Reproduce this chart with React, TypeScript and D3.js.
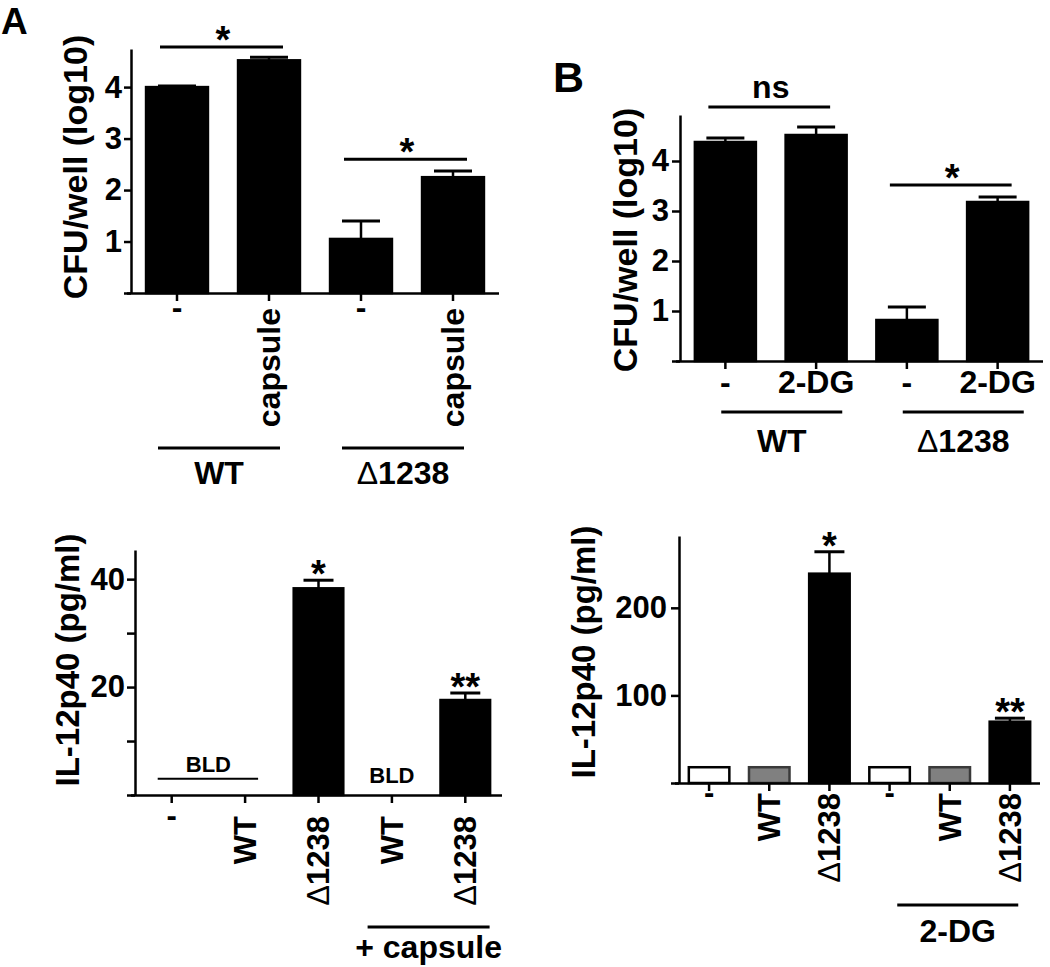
import React, { useEffect, useRef } from 'react';
import * as d3 from 'd3';

const FONT = '"Liberation Sans", Arial, Helvetica, sans-serif';

// A (top): CFU/well, with or without capsule
const capCats = ['-', 'capsule', '-', 'capsule'];
const capMeans = [4.0, 4.52, 1.05, 2.25];
const capErrs = [0.02, 0.06, 0.35, 0.12];
const capTicks = [0, 1, 2, 3, 4];
const capTickLabels = [1, 2, 3, 4];
const capGroups = [{ label: 'WT', from: 0, to: 1 }, { label: 'Δ1238', from: 2, to: 3 }];
const capSig = [{ from: 0, to: 1, y: 4.78, label: '*' }, { from: 2, to: 3, y: 2.6, label: '*' }];

// B (top): CFU/well, with or without 2-DG
const dgCats = ['-', '2-DG', '-', '2-DG'];
const dgMeans = [4.38, 4.52, 0.82, 3.18];
const dgErrs = [0.08, 0.16, 0.26, 0.1];
const dgTicks = [0, 1, 2, 3, 4];
const dgTickLabels = [1, 2, 3, 4];
const dgGroups = [{ label: 'WT', from: 0, to: 1 }, { label: 'Δ1238', from: 2, to: 3 }];
const dgSig = [{ from: 0, to: 1, y: 5.08, label: 'ns' }, { from: 2, to: 3, y: 3.52, label: '*' }];

// A (bottom): IL-12p40, capsule
const ilCapCats = ['-', 'WT', 'Δ1238', 'WT', 'Δ1238'];
const ilCapStrain = ['none', 'WT', 'Δ1238', 'WT', 'Δ1238'];
const ilCapMeans: (number | null)[] = [null, null, 38.3, null, 17.6];
const ilCapErrs: (number | null)[] = [null, null, 1.5, null, 1.3];
const ilCapStars = ['', '', '*', '', '**'];
const ilCapTicks = [0, 10, 20, 30, 40];
const ilCapTickLabels = [20, 40];
const ilCapBld = [{ from: 0, to: 1, textY: 4.3, lineY: 3 }, { from: 3, to: 3, textY: 2.2, lineY: null }];
const ilCapGroups = [{ label: '+ capsule', from: 3, to: 4 }];

// B (bottom): IL-12p40, 2-DG
const ilDgCats = ['-', 'WT', 'Δ1238', '-', 'WT', 'Δ1238'];
const ilDgStrain = ['none', 'WT', 'Δ1238', 'none', 'WT', 'Δ1238'];
const ilDgMeans: (number | null)[] = [18, 18, 239, 18, 18, 70];
const ilDgErrs: (number | null)[] = [0, 0, 25, 0, 0, 4];
const ilDgStars = ['', '', '*', '', '', '**'];
const ilDgTicks = [0, 100, 200];
const ilDgTickLabels = [100, 200];
const ilDgGroups = [{ label: '2-DG', from: 3, to: 5 }];

const strainFill = d3.scaleOrdinal<string, string>().domain(['none', 'WT', 'Δ1238']).range(['#ffffff', '#808080', '#000000']);
const strainStroke = d3.scaleOrdinal<string, string>().domain(['none', 'WT', 'Δ1238']).range(['#000000', '#3a3a3a', '#000000']);

type Sel = d3.Selection<any, any, any, any>;

// text with a thin (regular weight) delta, as in the original figure
const setLabel = (t: Sel, s: string) => {
  if (s.startsWith('Δ')) {
    t.append('tspan').attr('font-weight', 'normal').text('Δ');
    t.append('tspan').text(s.slice(1));
  } else t.text(s);
};

interface Panel {
  cats: string[];
  strain?: string[];
  means: (number | null)[];
  errs: (number | null)[];
  ticks: number[];
  tickLabels: number[];
  yTitle: string;
  groups: { label: string; from: number; to: number }[];
  sig?: { from: number; to: number; y: number; label: string }[];
  stars?: string[];
  bld?: { from: number; to: number; textY: number; lineY: number | null }[];
  L: {
    x0: number; x1: number; y0: number; yTop: number; yMax: number; pad: number;
    tickSize: number; tickPad: number; capW: number;
    titleX: number; titleY: number; titleSize: number;
    rotated: boolean; labY: number; labSize: number;
    grpLineY: number; grpTextY: number; grpOff: number; grpHalf: number;
  };
}

const drawPanel = (root: Sel, p: Panel) => {
  const L = p.L;
  const g = root.append('g');
  const n = p.cats.length;
  const x = d3.scaleBand<number>().domain(d3.range(n)).range([L.x0, L.x1]).paddingInner(L.pad).paddingOuter(L.pad / 2);
  const y = d3.scaleLinear().domain([0, L.yMax]).range([L.y0, L.yTop]);
  const cx = (i: number) => (x(i) as number) + x.bandwidth() / 2;

  const bars = p.means.map((m, i) => ({ i, m, e: p.errs[i] })).filter(d => d.m != null) as { i: number; m: number; e: number | null }[];

  // error bars (upper only)
  bars.filter(d => d.e).forEach(d => {
    const top = y(d.m + (d.e as number));
    g.append('line').attr('x1', cx(d.i)).attr('x2', cx(d.i)).attr('y1', y(d.m)).attr('y2', top)
      .attr('stroke', '#000').attr('stroke-width', 2.5);
    g.append('line').attr('x1', cx(d.i) - L.capW / 2).attr('x2', cx(d.i) + L.capW / 2).attr('y1', top).attr('y2', top)
      .attr('stroke', '#000').attr('stroke-width', 3);
  });

  g.selectAll('rect.bar').data(bars).join('rect')
    .attr('class', 'bar')
    .attr('x', d => (x(d.i) as number) + 1.25)
    .attr('width', x.bandwidth() - 2.5)
    .attr('y', d => y(d.m))
    .attr('height', d => y(0) - y(d.m))
    .attr('fill', d => (p.strain ? strainFill(p.strain[d.i]) : '#000'))
    .attr('stroke', d => (p.strain ? strainStroke(p.strain[d.i]) : '#000'))
    .attr('stroke-width', 2.5);

  // axes
  const yAxis = d3.axisLeft(y).tickValues(p.ticks).tickSize(L.tickSize).tickSizeOuter(0).tickPadding(L.tickPad)
    .tickFormat(d => (p.tickLabels.includes(+d) ? String(d) : ''));
  const ya = g.append('g').attr('transform', `translate(${L.x0},0)`).call(yAxis);
  ya.attr('font-size', 31).attr('font-family', FONT).attr('font-weight', 'bold');
  ya.selectAll('path, line').attr('stroke', '#000').attr('stroke-width', 2.5);
  ya.selectAll('text').attr('fill', '#000');

  const xAxis = d3.axisBottom(x).tickSize(8).tickSizeOuter(0).tickFormat(() => '');
  const xa = g.append('g').attr('transform', `translate(0,${L.y0})`).call(xAxis);
  xa.select('path.domain').attr('d', `M${L.x0 - 4},0.5H${L.x1}`);
  xa.selectAll('path, line').attr('stroke', '#000').attr('stroke-width', 2.5);

  // y title
  g.append('text')
    .attr('transform', `translate(${L.titleX},${L.titleY}) rotate(-90)`)
    .attr('text-anchor', 'middle').attr('dy', '0.35em')
    .attr('font-family', FONT).attr('font-weight', 'bold').attr('font-size', L.titleSize)
    .text(p.yTitle);

  // category labels
  p.cats.forEach((c, i) => {
    const t = g.append('text').attr('font-family', FONT).attr('font-weight', 'bold').attr('font-size', L.labSize);
    if (c === '-') {
      t.attr('x', cx(i)).attr('y', L.rotated ? L.labY + 10 : L.labY).attr('text-anchor', 'middle').text('-');
    } else if (L.rotated) {
      t.attr('transform', `translate(${cx(i)},${L.labY}) rotate(-90)`).attr('text-anchor', 'end').attr('dy', '0.35em');
      setLabel(t, c);
    } else {
      t.attr('x', cx(i)).attr('y', L.labY).attr('text-anchor', 'middle');
      setLabel(t, c);
    }
  });

  // group brackets under labels
  p.groups.forEach(gr => {
    const mid = (cx(gr.from) + cx(gr.to)) / 2 + L.grpOff;
    g.append('line').attr('x1', mid - L.grpHalf).attr('x2', mid + L.grpHalf).attr('y1', L.grpLineY).attr('y2', L.grpLineY)
      .attr('stroke', '#000').attr('stroke-width', 3);
    const t = g.append('text').attr('x', mid).attr('y', L.grpTextY).attr('text-anchor', 'middle')
      .attr('font-family', FONT).attr('font-weight', 'bold').attr('font-size', 32);
    setLabel(t, gr.label);
  });

  // significance lines
  (p.sig || []).forEach(s => {
    const ly = y(s.y);
    g.append('line').attr('x1', cx(s.from) - 17).attr('x2', cx(s.to) + 14).attr('y1', ly).attr('y2', ly)
      .attr('stroke', '#000').attr('stroke-width', 3);
    const mid = (cx(s.from) + cx(s.to)) / 2;
    if (s.label === 'ns') {
      g.append('text').attr('x', mid).attr('y', ly - 9).attr('text-anchor', 'middle')
        .attr('font-family', FONT).attr('font-weight', 'bold').attr('font-size', 32).text('ns');
    } else {
      g.append('text').attr('x', mid).attr('y', ly - 15 + 21).attr('text-anchor', 'middle')
        .attr('font-family', FONT).attr('font-weight', 'bold').attr('font-size', 38).text(s.label);
    }
  });

  // stars over bars
  (p.stars || []).forEach((s, i) => {
    if (!s) return;
    const top = y((p.means[i] as number) + ((p.errs[i] as number) || 0));
    g.append('text').attr('x', cx(i)).attr('y', top - 14 + 21).attr('text-anchor', 'middle')
      .attr('font-family', FONT).attr('font-weight', 'bold').attr('font-size', 38).text(s);
  });

  // below limit of detection
  (p.bld || []).forEach(b => {
    const mid = (cx(b.from) + cx(b.to)) / 2;
    if (b.lineY != null) {
      g.append('line').attr('x1', cx(b.from) - 14).attr('x2', cx(b.to) + 13).attr('y1', y(b.lineY)).attr('y2', y(b.lineY))
        .attr('stroke', '#000').attr('stroke-width', 2);
    }
    g.append('text').attr('x', mid).attr('y', y(b.textY)).attr('text-anchor', 'middle')
      .attr('font-family', FONT).attr('font-weight', 'bold').attr('font-size', 22).text('BLD');
  });
};

const App: React.FC = () => {
  const svgRef = useRef<SVGSVGElement>(null);

  useEffect(() => {
    if (!svgRef.current) return;
    const svg = d3.select(svgRef.current);
    svg.selectAll('*').remove();

    drawPanel(svg, {
      cats: capCats, means: capMeans, errs: capErrs, ticks: capTicks, tickLabels: capTickLabels,
      yTitle: 'CFU/well (log10)', groups: capGroups, sig: capSig,
      L: {
        x0: 131, x1: 499, y0: 293, yTop: 49, yMax: 4.74, pad: 0.3, tickSize: 7, tickPad: 2, capW: 38,
        titleX: 75, titleY: 167, titleSize: 34, rotated: true, labY: 308, labSize: 32,
        grpLineY: 448, grpTextY: 484, grpOff: -4, grpHalf: 61,
      },
    });

    drawPanel(svg, {
      cats: dgCats, means: dgMeans, errs: dgErrs, ticks: dgTicks, tickLabels: dgTickLabels,
      yTitle: 'CFU/well (log10)', groups: dgGroups, sig: dgSig,
      L: {
        x0: 680, x1: 1043, y0: 361, yTop: 115, yMax: 4.92, pad: 0.3, tickSize: 8, tickPad: 3, capW: 38,
        titleX: 625, titleY: 240, titleSize: 34, rotated: false, labY: 393, labSize: 32,
        grpLineY: 412, grpTextY: 452, grpOff: 11, grpHalf: 60.5,
      },
    });

    drawPanel(svg, {
      cats: ilCapCats, strain: ilCapStrain, means: ilCapMeans, errs: ilCapErrs, ticks: ilCapTicks, tickLabels: ilCapTickLabels,
      yTitle: 'IL-12p40 (pg/ml)', groups: ilCapGroups, stars: ilCapStars, bld: ilCapBld,
      L: {
        x0: 135, x1: 502, y0: 795, yTop: 550, yMax: 45.4, pad: 0.29, tickSize: 8, tickPad: 2, capW: 30,
        titleX: 67, titleY: 660, titleSize: 33, rotated: true, labY: 816, labSize: 31,
        grpLineY: 927, grpTextY: 958, grpOff: 0, grpHalf: 61,
      },
    });

    drawPanel(svg, {
      cats: ilDgCats, strain: ilDgStrain, means: ilDgMeans, errs: ilDgErrs, ticks: ilDgTicks, tickLabels: ilDgTickLabels,
      yTitle: 'IL-12p40 (pg/ml)', groups: ilDgGroups, stars: ilDgStars,
      L: {
        x0: 679, x1: 1040, y0: 783, yTop: 536, yMax: 282, pad: 0.285, tickSize: 8, tickPad: 4, capW: 30,
        titleX: 583, titleY: 652, titleSize: 33, rotated: true, labY: 793, labSize: 31,
        grpLineY: 905, grpTextY: 942, grpOff: 8, grpHalf: 60.5,
      },
    });

    // panel letters
    svg.append('text').attr('x', 1).attr('y', 34).attr('font-family', FONT).attr('font-weight', 'bold').attr('font-size', 37).text('A');
    svg.append('text').attr('x', 553).attr('y', 92).attr('font-family', FONT).attr('font-weight', 'bold').attr('font-size', 43).text('B');
  }, []);

  return (
    <div style={{ position: 'absolute', left: 0, top: 0, background: '#fff' }}>
      <svg ref={svgRef} width={1050} height={967} style={{ display: 'block' }} />
    </div>
  );
};

export default App;
